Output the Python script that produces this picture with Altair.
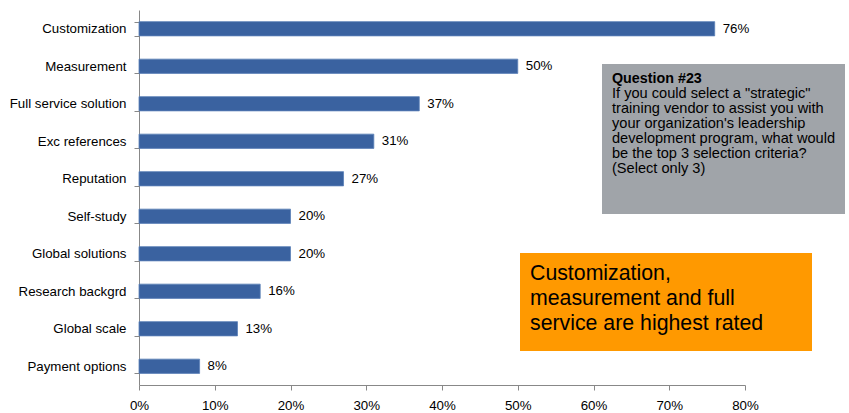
import altair as alt
import pandas as pd

categories = ["Customization", "Measurement", "Full service solution", "Exc references",
              "Reputation", "Self-study", "Global solutions", "Research backgrd",
              "Global scale", "Payment options"]
values = [76, 50, 37, 31, 27, 20, 20, 16, 13, 8]
x_ticks = [0, 10, 20, 30, 40, 50, 60, 70, 80]

question_title = "Question #23"
question_lines = ["If you could select a \"strategic\"", "training vendor to assist you with",
                  "your organization's leadership", "development program, what would",
                  "be the top 3 selection criteria?", "(Select only 3)"]
callout_lines = ["Customization,", "measurement and full", "service are highest rated"]

df = pd.DataFrame({"cat": categories, "val": values,
                   "lab": [f"{v}%" for v in values]})

FONT = "Liberation Sans"
FS = 13.3
W, H = 606, 375

y_enc = alt.Y("cat:N", sort=categories, title=None,
              scale=alt.Scale(paddingInner=0.62, paddingOuter=0.31),
              axis=alt.Axis(tickBand="extent", labelFont=FONT, labelFontSize=FS,
                            labelColor="#000000", domainColor="#888888", tickColor="#888888",
                            tickSize=5, labelPadding=8, grid=False))
x_enc = alt.X("val:Q", title=None,
              scale=alt.Scale(domain=[0, 80], nice=False),
              axis=alt.Axis(values=x_ticks, labelExpr="datum.value + '%'", labelFont=FONT,
                            labelFontSize=FS, labelColor="#000000", domainColor="#888888",
                            tickColor="#888888", tickSize=5, labelPadding=8, grid=False,
                            labelFlush=False, labelOverlap=False))

base = alt.Chart(df)
bars = base.mark_bar(color="#3A62A0", stroke="#5A80B8", strokeWidth=0.8).encode(x=x_enc, y=y_enc)
labels = base.mark_text(align="left", dx=8, font=FONT, fontSize=FS, color="#000000").encode(
    x=alt.X("val:Q"),
    y=alt.Y("cat:N", sort=categories),
    text="lab:N")

ann = pd.DataFrame({"k": [0]})
gray_box = alt.Chart(ann).mark_rect(color="#A0A4A9").encode(
    x=alt.value(463), x2=alt.value(706), y=alt.value(54), y2=alt.value(204))
orange_box = alt.Chart(ann).mark_rect(color="#FF9900").encode(
    x=alt.value(381), x2=alt.value(673), y=alt.value(243), y2=alt.value(341))

q_title = alt.Chart(pd.DataFrame({"t": [question_title]})).mark_text(
    align="left", baseline="alphabetic", font=FONT, fontSize=14.3, fontWeight="bold", color="#000000"
).encode(x=alt.value(473), y=alt.value(73), text="t:N")
q_body = alt.Chart(pd.DataFrame({"t": [question_lines]})).mark_text(
    align="left", baseline="alphabetic", font=FONT, fontSize=14.6, lineHeight=15, color="#000000"
).encode(x=alt.value(473), y=alt.value(88), text="t")
callout = alt.Chart(pd.DataFrame({"t": [callout_lines]})).mark_text(
    align="left", baseline="alphabetic", font=FONT, fontSize=21.3, lineHeight=25, color="#000000"
).encode(x=alt.value(391), y=alt.value(270), text="t")

chart = alt.layer(bars, labels, gray_box, orange_box, q_title, q_body, callout).properties(
    width=W, height=H,
    background="#FFFFFF",
    autosize=alt.AutoSizeParams(type="none"),
    padding={"left": 139, "top": 10, "right": 104, "bottom": 28},
).configure_view(strokeWidth=0, stroke=None).configure_axis(grid=False)

chart.save("out.html", embed_options={"renderer": "svg", "actions": False})
